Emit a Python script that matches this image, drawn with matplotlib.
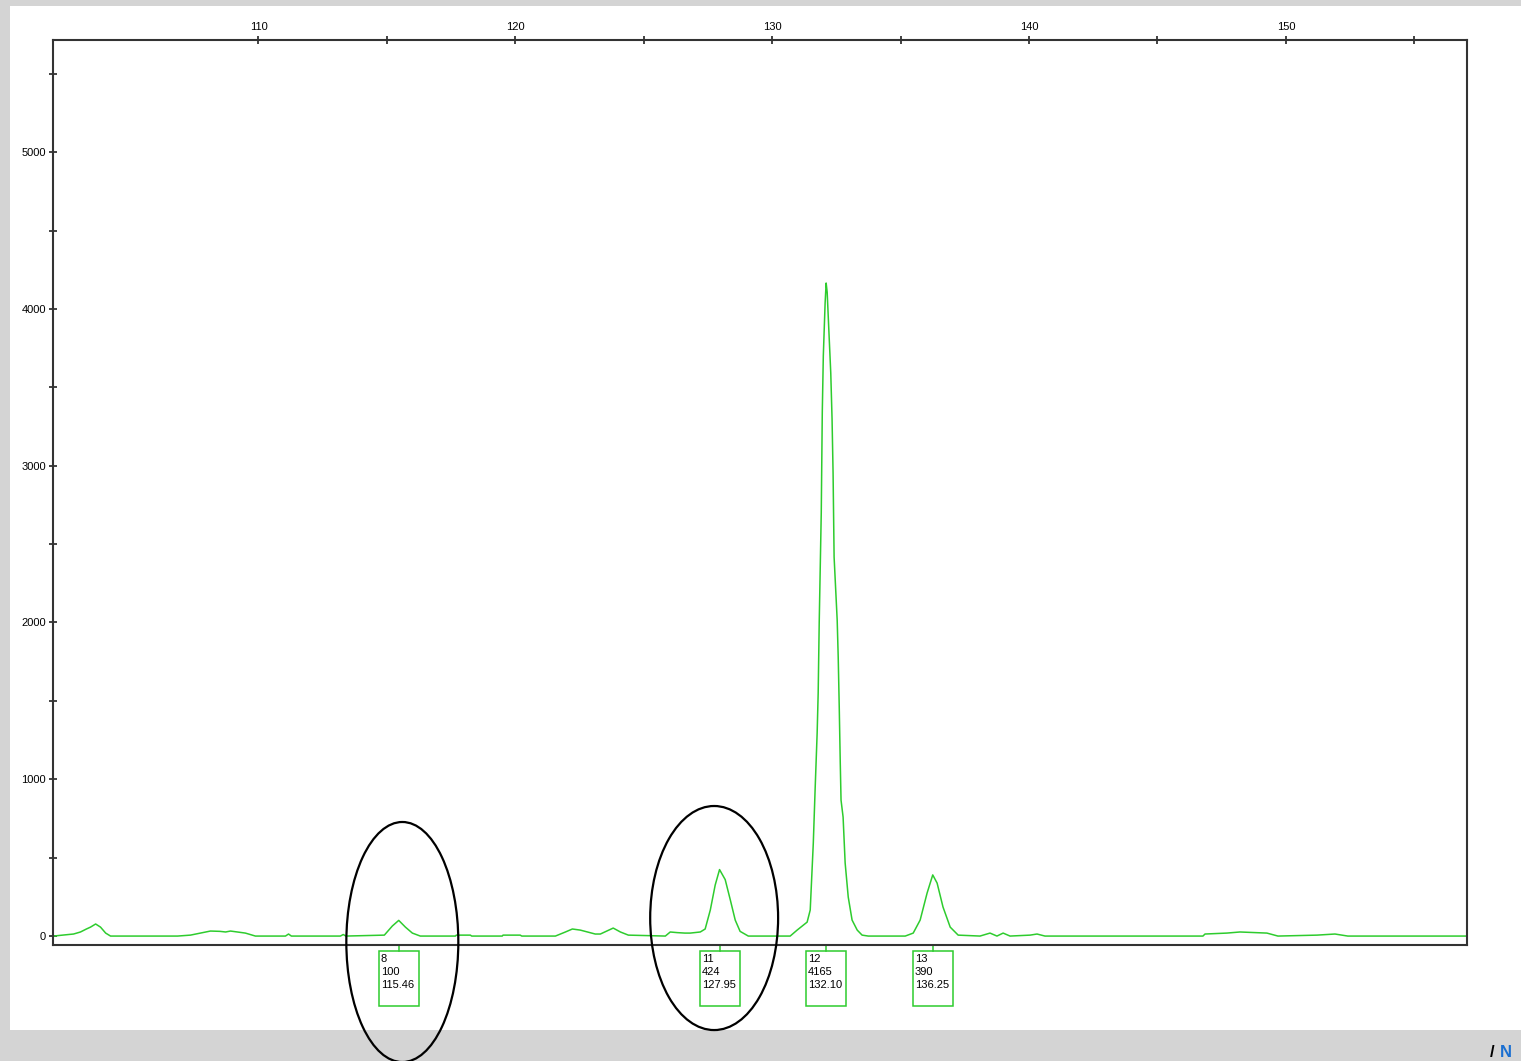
import matplotlib.pyplot as plt
from matplotlib.patches import Rectangle, Ellipse
from matplotlib.ticker import FixedLocator, MultipleLocator, FuncFormatter

# electropherogram trace (size in bp, signal in RFU)
trace_x = [102.02, 102.37, 102.80, 103.07, 103.30, 103.46, 103.66, 103.85, 104.05, 104.24,
           106.85, 107.35, 107.74, 108.13, 108.50, 108.72, 108.91, 109.49, 109.88,
           111.05, 111.17, 111.28, 113.19, 113.30, 113.40,
           114.90, 115.21, 115.46, 115.72, 115.99, 116.30,
           117.67, 117.70, 118.25, 118.30, 119.49, 119.52, 120.19, 120.25,
           121.56, 121.95, 122.22, 122.53, 123.11, 123.31, 123.81, 124.09, 124.40,
           125.84, 126.03, 126.30, 126.60, 126.81, 127.20, 127.39, 127.59, 127.78, 127.95,
           128.17, 128.37, 128.56, 128.75, 129.07,
           130.70, 130.97, 131.36, 131.48, 131.60, 131.67, 131.75, 131.79, 131.83, 131.91,
           131.95, 131.99, 132.06, 132.10, 132.14, 132.20, 132.28, 132.33, 132.37, 132.41,
           132.53, 132.57, 132.61, 132.65, 132.68, 132.76, 132.84, 132.96, 133.11, 133.31,
           133.50, 133.74,
           135.18, 135.49, 135.76, 136.03, 136.25, 136.42, 136.65, 136.93, 137.24,
           138.09, 138.48, 138.75, 138.99, 139.26, 140.04, 140.31, 140.62,
           146.77, 146.85, 147.70, 148.21, 149.26, 149.69, 151.21, 151.91, 152.41, 157.04]
trace_y = [0, 6, 13, 26, 45, 57, 77, 57, 19, 0,
           0, 6, 19, 32, 30, 26, 32, 19, 0,
           0, 13, 0, 0, 10, 0,
           6, 64, 100, 57, 19, 0,
           0, 6, 6, 0, 0, 6, 6, 0,
           0, 26, 45, 38, 13, 13, 51, 26, 6,
           0, 26, 22, 19, 19, 26, 45, 166, 325, 424,
           360, 230, 102, 30, 0,
           0, 38, 89, 166, 593, 931, 1295, 1550, 1996, 2700,
           3342, 3700, 4037, 4165, 4107, 3884, 3591, 3300, 2953, 2417,
           2015, 1779, 1461, 1103, 867, 759, 466, 249, 102, 38,
           6, 0,
           0, 19, 102, 274, 390, 338, 185, 57, 6,
           0, 19, 0, 19, 0, 6, 13, 0,
           0, 13, 19, 26, 19, 0, 6, 13, 0, 0]

# called peaks: allele, height, size
peak_ids = [8, 11, 12, 13]
peak_heights = [100, 424, 4165, 390]
peak_sizes = [115.46, 127.95, 132.10, 136.25]
circled = [8, 11]

size_ticks = [110, 115, 120, 125, 130, 135, 140, 145, 150, 155]

green = '#2ecc2e'
plt.rcParams['font.family'] = ['Liberation Sans', 'DejaVu Sans']

fig = plt.figure(figsize=(15.21, 10.61), dpi=100)
fig.patch.set_facecolor('#d4d4d4')
fig.patches.append(Rectangle((10 / 1521, 31 / 1061), 1511 / 1521, 1024 / 1061,
                             transform=fig.transFigure, facecolor='white',
                             edgecolor='none', zorder=-5))

ax = fig.add_axes([53 / 1521, 116 / 1061, 1414 / 1521, 905 / 1061])
ax.plot(trace_x, trace_y, color=green, lw=1.1)

ax.set_xlim(102.0, 157.05)
ax.set_ylim(-57, 5715)

ax.xaxis.set_major_locator(FixedLocator(size_ticks))
ax.yaxis.set_major_locator(MultipleLocator(500))
ax.xaxis.set_major_formatter(FuncFormatter(lambda v, p: '%d' % v if v % 10 == 0 else ''))
ax.yaxis.set_major_formatter(FuncFormatter(lambda v, p: '%d' % v if v % 1000 == 0 else ''))
ax.xaxis.tick_top()
ax.tick_params(axis='both', direction='inout', length=6, width=1.2, color='#222222',
               labelsize=8, pad=2)
ax.tick_params(axis='x', pad=3)
for s in ax.spines.values():
    s.set_linewidth(1.5)
    s.set_color('#333333')

# peak label boxes under the axis
box_w = 1.556
for pid, h, sz in zip(peak_ids, peak_heights, peak_sizes):
    ax.plot([sz, sz], [-57, -96], color=green, lw=1.1, clip_on=False)
    ax.add_patch(Rectangle((sz - box_w / 2, -446), box_w, 350, facecolor='white',
                           edgecolor=green, lw=1.1, clip_on=False))
    tx = sz - box_w / 2 + 0.08
    for i, line in enumerate([str(pid), str(h), '%.2f' % sz]):
        ax.text(tx, -147 - i * 83, line, fontsize=8, ha='left', va='center',
                clip_on=False)

# ellipses round the weak peaks
rings = {8: (115.60, -38, 4.36, 1531), 11: (127.74, 115, 4.98, 1429)}
for pid in circled:
    cx, cy, w, h = rings[pid]
    ax.add_patch(Ellipse((cx, cy), w, h, fill=False, edgecolor='black', lw=1.6,
                         clip_on=False, zorder=5))

# logo in the corner
fig.text(1490 / 1521, 1 / 1061, '/', fontsize=12, fontweight='bold', color='black',
         va='bottom', ha='left')
fig.text(1500 / 1521, 1 / 1061, 'N', fontsize=12, fontweight='bold', color='#1a6fd1',
         va='bottom', ha='left')

fig.savefig('out.png', dpi=100, facecolor=fig.get_facecolor())
